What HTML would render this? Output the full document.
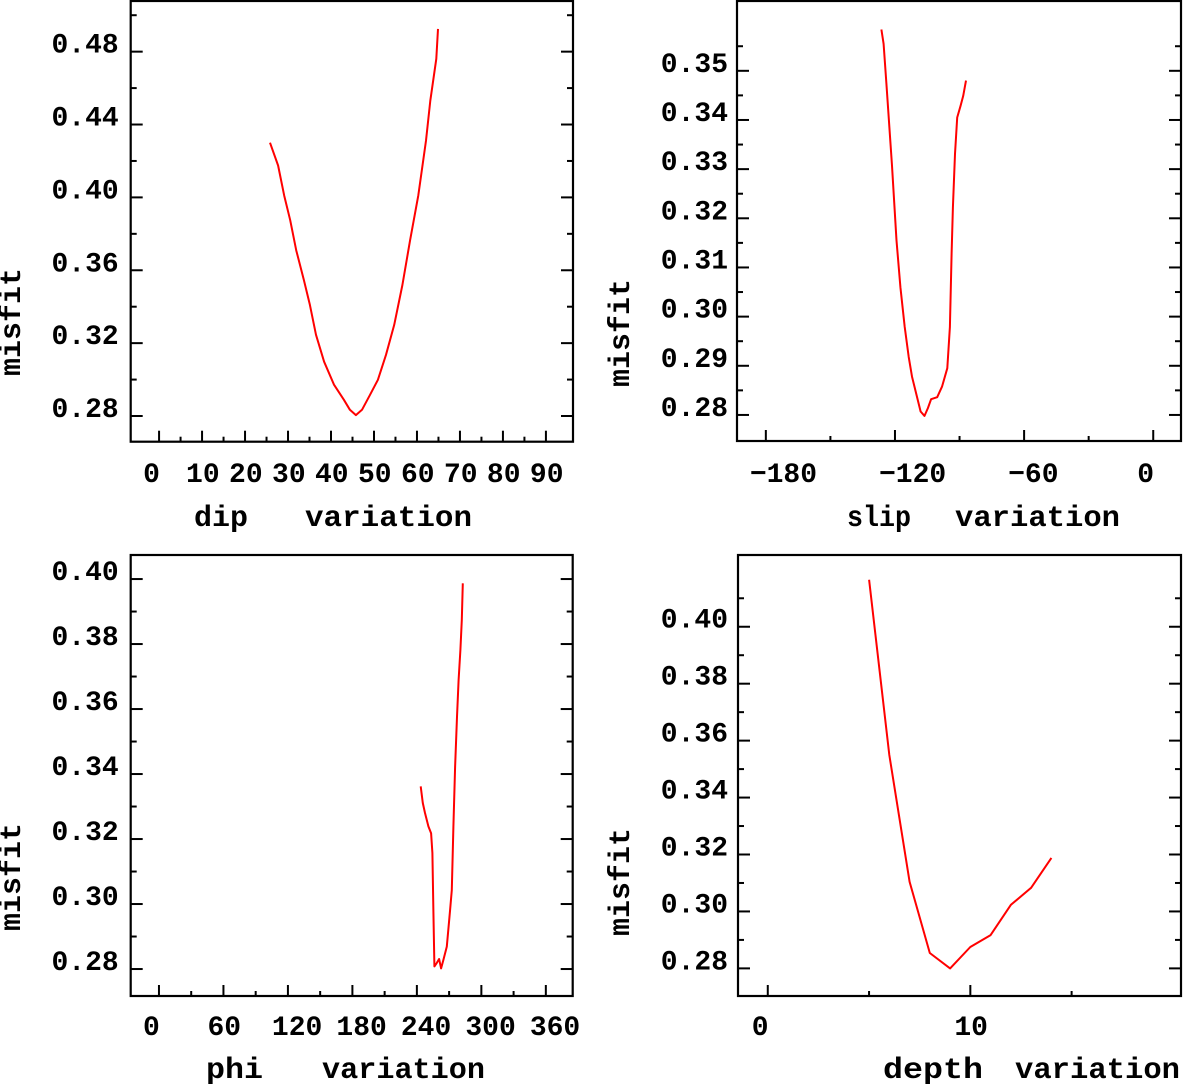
<!DOCTYPE html>
<html><head><meta charset="utf-8"><style>
html,body{margin:0;padding:0;background:#fff}
svg{display:block}
text{font-family:"Liberation Mono",monospace;font-weight:bold;fill:#000}
</style></head><body>
<svg id="chart" width="1183" height="1086" viewBox="0 0 1183 1086" xmlns="http://www.w3.org/2000/svg"></svg>
<script>
// ---- data ----
const dipX = [25.8,27.7,29.1,30.5,31.9,33.7,35.1,36.5,38.4,40.7,43.0,44.4,45.8,47.2,49.1,50.9,52.8,54.7,56.6,58.4,60.3,62.1,63.1,64.5,64.9];
const dipY = [0.430,0.4175,0.401,0.3875,0.371,0.3546,0.341,0.3246,0.3098,0.2972,0.2889,0.2834,0.2805,0.2834,0.2917,0.2999,0.3136,0.3300,0.3519,0.3765,0.4011,0.4312,0.4531,0.4761,0.4925];
const slipX = [-126.3,-125.3,-124.0,-121.4,-119.3,-117.5,-115.5,-113.6,-112.1,-110.2,-108.1,-106.3,-104.7,-103.2,-100.4,-98.1,-95.7,-94.5,-93.7,-93.1,-92.1,-91.1,-89.5,-88.3,-87.0];
const slipY = [0.3584,0.3555,0.3474,0.3307,0.3155,0.3060,0.2979,0.2918,0.2878,0.2844,0.2807,0.2798,0.2814,0.2832,0.2836,0.2858,0.2895,0.2979,0.3128,0.3222,0.3331,0.3405,0.3429,0.3449,0.3480];
const phiX = [243.6,245.5,247.6,250.7,253.2,254.4,255.4,256.3,258.5,260.7,262.5,264.7,267.8,270.9,272.5,274.0,275.6,277.3,278.8,280.5,281.8,282.7];
const phiY = [0.3362,0.3311,0.3280,0.3239,0.3218,0.3157,0.2977,0.2808,0.2819,0.2831,0.2802,0.2828,0.2869,0.2982,0.3043,0.3238,0.3422,0.3576,0.3689,0.3782,0.3874,0.3987];
const depthX = [5,6,7,8,9,10,11,12,13,14];
const depthY = [0.4165,0.355,0.3104,0.2854,0.280,0.2875,0.2917,0.3023,0.3083,0.3188];
const dipTicks = [0,10,20,30,40,50,60,70,80,90];
const slipTicks = [-180,-120,-60,0];
const phiTicks = [0,60,120,180,240,300,360];
const depthTicks = [0,10];
const yTicksA = [0.28,0.32,0.36,0.40,0.44,0.48];
const yTicksB = [0.28,0.29,0.30,0.31,0.32,0.33,0.34,0.35];
const yTicksC = [0.28,0.30,0.32,0.34,0.36,0.38,0.40];

const NS = "http://www.w3.org/2000/svg";
const svg = document.getElementById('chart');
function mk(tag, attrs, parent){
  const e = document.createElementNS(NS, tag);
  for (const k in attrs) e.setAttribute(k, attrs[k]);
  (parent||svg).appendChild(e);
  return e;
}
function fmtX(v){ return v<0 ? "\u2212"+Math.abs(v) : String(v); }

function panel(o){
  const g = mk('g', {});
  
  
  const sx = v => o.L + (v - o.x0) / (o.x1 - o.x0) * (o.R - o.L);
  const sy = v => o.B - (v - o.y0) / (o.y1 - o.y0) * (o.B - o.T);
  const box = mk('rect', {x:o.L, y:o.T, width:o.R-o.L, height:o.B-o.T, fill:'none', stroke:'#000', 'stroke-width':2.2}, g);
  
  
  // x ticks
  const xt = o.xTicks;
  const step = xt[1]-xt[0];
  for (let i = 0; i <= (xt.length-1)*2+1; i++){
    const v = xt[0] + i*step/2;
    const px = sx(v);
    if (px < o.L+10 || px > o.R-10) continue;
    const major = i % 2 === 0;
    const t = mk('line', {x1:px, x2:px, y1:o.B, y2:o.B-(major?11:5), stroke:'#000','stroke-width':2}, g);
    
    
  }
  xt.forEach(v => {
    const t = mk('text', {x:sx(v)-16, y:o.xLabY, 'font-size':28}, g);
    t.textContent = fmtX(v);
    
    
  });
  // y ticks
  const yt = o.yTicks;
  const ys = yt[1]-yt[0];
  for (let i = -1; i <= (yt.length-1)*2+1; i++){
    const v = yt[0] + i*ys/2;
    const py = sy(v);
    if (py < o.T+4 || py > o.B-4) continue;
    const major = ((i % 2) + 2) % 2 === 0;
    const len = major?12:6;
    const a = mk('line', {x1:o.L, x2:o.L+len, y1:py, y2:py, stroke:'#000','stroke-width':2}, g);
    
    
    const b = mk('line', {x1:o.R, x2:o.R-len, y1:py, y2:py, stroke:'#000','stroke-width':2}, g);
    
    
  }
  yt.forEach(v => {
    const t = mk('text', {x:o.L-o.yLabGap, y:sy(v)+1, 'font-size':28, 'text-anchor':'end'}, g);
    t.textContent = v.toFixed(2);
    
    
  });
  // y title
  const yt2 = mk('text', {x:0, y:0, 'font-size':30, 'text-anchor':'middle', 'dominant-baseline':'central',
    transform:`translate(${o.yTitleX},${o.yTitleY}) rotate(-90)`}, g);
  yt2.textContent = 'misfit';
  
  
  // x title
  const a1 = mk('text', {x:o.t1[0], y:o.titleY, 'font-size':30, textLength:o.t1[1], lengthAdjust:'spacingAndGlyphs'}, g);
  a1.textContent = o.xName;
  
  
  const a2 = mk('text', {x:o.t2[0], y:o.titleY, 'font-size':30, textLength:o.t2[1], lengthAdjust:'spacingAndGlyphs'}, g);
  a2.textContent = 'variation';
  
  
  // curve
  const d = o.xs.map((v,i) => (i?'L':'M') + sx(v).toFixed(1) + ' ' + sy(o.ys[i]).toFixed(1)).join(' ');
  const p = mk('path', {d:d, fill:'none', stroke:'#ff0000', 'stroke-width':2, 'stroke-linejoin':'round'}, g);
  
  
}

panel({name:'dip', L:130.7, R:573, T:1, B:441.7, x0:-6.6, x1:96.3, y0:0.2659, y1:0.5078,
  xTicks:dipTicks, yTicks:yTicksA, xs:dipX, ys:dipY, xLabY:482, yLabGap:12,
  yTitleX:13, yTitleY:322, xName:'dip', t1:[194,54], t2:[305,167], titleY:526});
panel({name:'slip', L:737, R:1181, T:1, B:441, x0:-193.4, x1:12.9, y0:0.2747, y1:0.3642,
  xTicks:slipTicks, yTicks:yTicksB, xs:slipX, ys:slipY, xLabY:482, yLabGap:9,
  yTitleX:622, yTitleY:333, xName:'slip', t1:[847,64], t2:[955,165], titleY:526});
panel({name:'phi', L:130.7, R:572.7, T:555, B:996, x0:-26.3, x1:385, y0:0.2717, y1:0.4074,
  xTicks:phiTicks, yTicks:yTicksC, xs:phiX, ys:phiY, xLabY:1035, yLabGap:12,
  yTitleX:13, yTitleY:877, xName:'phi', t1:[206,57], t2:[322,163], titleY:1078});
panel({name:'depth', L:738, R:1181, T:555, B:996, x0:-1.47, x1:20.4, y0:0.2703, y1:0.4252,
  xTicks:depthTicks, yTicks:yTicksC, xs:depthX, ys:depthY, xLabY:1035, yLabGap:10,
  yTitleX:622, yTitleY:882, xName:'depth', t1:[883,100], t2:[1015,165], titleY:1078});
</script>
</body></html>
